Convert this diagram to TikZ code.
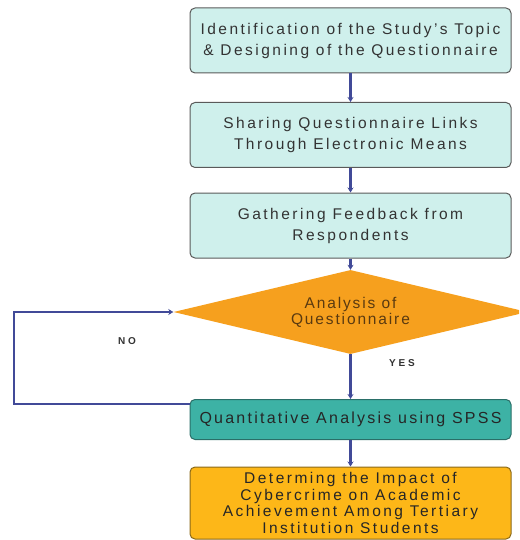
\documentclass[tikz,border=0pt]{standalone}
\usepackage{fontspec}
\setmainfont{Liberation Sans}
\usetikzlibrary{shapes.geometric,arrows.meta}
\definecolor{cyanfill}{HTML}{CFF0EC}
\definecolor{boxline}{HTML}{5A5A5A}
\definecolor{tealfill}{HTML}{3DB2A5}
\definecolor{tealline}{HTML}{2A6F68}
\definecolor{orangefill}{HTML}{F6A01E}
\definecolor{goldfill}{HTML}{FDB718}
\definecolor{goldline}{HTML}{8A6A1A}
\definecolor{arrowc}{HTML}{414A98}
\definecolor{txt}{HTML}{333333}
\definecolor{dtxt}{HTML}{5A3A10}
\begin{document}
\begin{tikzpicture}[x=1pt,y=-1pt,
  lightbox/.style={draw=boxline, line width=1pt, fill=cyanfill, rounded corners=5pt,
    minimum width=321pt, minimum height=65pt, align=center, inner sep=1pt,
    text=txt, font=\fontsize{15.5}{21}\selectfont\addfontfeatures{LetterSpace=16}},
  tealbox/.style={draw=tealline, line width=1pt, fill=tealfill, rounded corners=5pt,
    minimum width=321pt, minimum height=40pt, align=center, inner sep=1pt,
    text=black!85, font=\fontsize{16}{18}\selectfont\addfontfeatures{LetterSpace=14}},
  goldbox/.style={draw=goldline, line width=1pt, fill=goldfill, rounded corners=5pt,
    minimum width=321pt, minimum height=72pt, align=center, inner sep=1pt,
    text=black!85, font=\fontsize{15.5}{16.7}\selectfont\addfontfeatures{LetterSpace=16}},
  decision/.style={diamond, aspect=4.2, fill=orangefill, draw=none, minimum width=354pt,
    minimum height=84pt, inner sep=0pt, align=center, text=dtxt,
    font=\fontsize{15.5}{16}\selectfont\addfontfeatures{LetterSpace=12}},
  flow/.style={draw=arrowc, line width=2.2pt, -{Stealth[length=5pt,width=6pt]}},
  lbl/.style={font=\bfseries\fontsize{10}{11}\selectfont\addfontfeatures{LetterSpace=28}, text=black!80}
]
\useasboundingbox (0,0) rectangle (519,540);
\clip (0,0) rectangle (519,540);
\node[lightbox] (b1) at (350.5,40.5) {Identification of the Study's Topic\\\& Designing of the Questionnaire};
\node[lightbox] (b2) at (350.5,135) {Sharing Questionnaire Links\\Through Electronic Means};
\node[lightbox] (b3) at (350.5,225.5) {Gathering Feedback from\\Respondents};
\node[decision] (d) at (350.5,312) {Analysis of\\Questionnaire};
\node[tealbox] (b4) at (350.5,419.5) {Quantitative Analysis using SPSS};
\node[goldbox] (b5) at (350.5,503) {Determing the Impact of\\Cybercrime on Academic\\Achievement Among Tertiary\\Institution Students};
\coordinate (c1) at (14,404);
\draw[flow] (b1) -- (b2);
\draw[flow] (b2) -- (b3);
\draw[flow] (b3) -- (d);
\draw[flow] (d) -- (b4);
\draw[flow] (b4) -- (b5);
\draw[flow] (b4.west |- c1) -- (c1) |- (d.west);
\node[lbl] (no) at (127,341) {NO};
\node[lbl] (yes) at (402,363) {YES};
\end{tikzpicture}
\end{document}
